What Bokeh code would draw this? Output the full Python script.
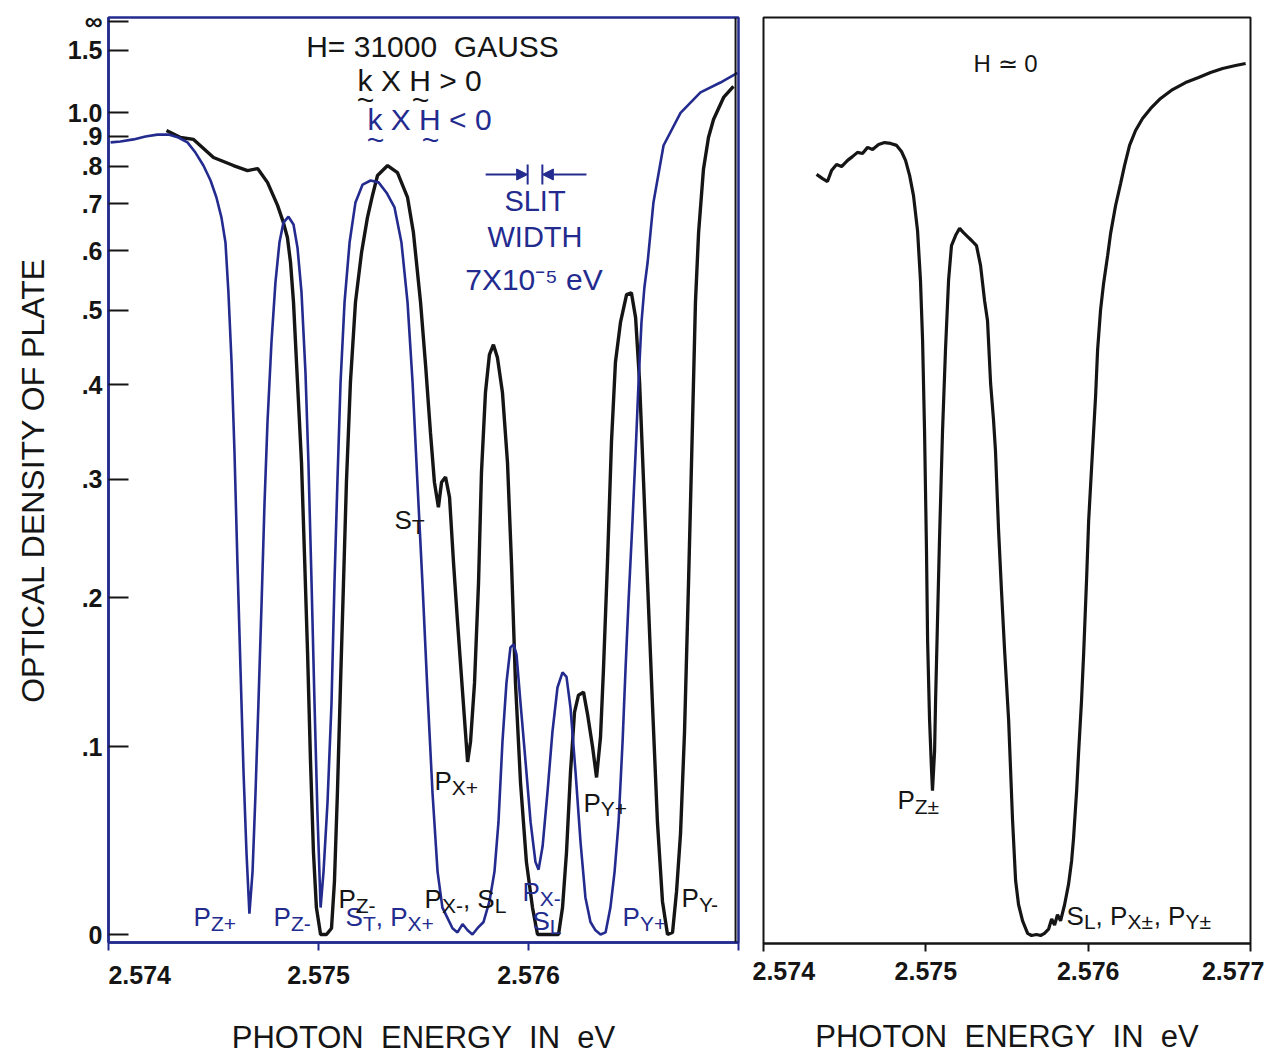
import numpy as np
from bokeh.plotting import figure
from bokeh.models import (Range1d, FixedTicker, Label, Arrow, NormalHead, Span,
                          CustomJSTickFormatter)
from bokeh.layouts import row
from bokeh.embed import file_html
from bokeh.resources import INLINE

# ---------------- data (photon energy in eV, optical density of plate) ----------------
# H = 31000 gauss, k x H > 0 (black trace)
pos_energy = [
    2.574276, 2.574343, 2.574405, 2.5745, 2.574595, 2.574662, 2.57471, 2.574757, 2.574805, 2.574833,
    2.574852, 2.574867, 2.574881, 2.5749, 2.574919, 2.574933, 2.574948, 2.574962, 2.574976, 2.57499,
    2.57501, 2.575038, 2.575062, 2.575076, 2.57509, 2.575105, 2.575119, 2.575133, 2.575152, 2.575176,
    2.575205, 2.575233, 2.575257, 2.575281, 2.575329, 2.575376, 2.575424, 2.575452, 2.575486, 2.57551,
    2.575533, 2.575552, 2.575571, 2.575586, 2.575605, 2.575624, 2.575643, 2.575662, 2.575686, 2.57571,
    2.575724, 2.575743, 2.575762, 2.575776, 2.575795, 2.575814, 2.575833, 2.575852, 2.575876, 2.5759,
    2.575919, 2.575938, 2.575962, 2.57599, 2.576019, 2.576043, 2.576095, 2.576143, 2.576162, 2.576181,
    2.5762, 2.576219, 2.576238, 2.576262, 2.576281, 2.576305, 2.576324, 2.576343, 2.576357, 2.576376,
    2.576395, 2.576414, 2.576438, 2.576467, 2.57649, 2.57651, 2.576529, 2.576548, 2.576567, 2.57659,
    2.576614, 2.576638, 2.576662, 2.576686, 2.576705, 2.576724, 2.576743, 2.576762, 2.576781, 2.576795,
    2.57681, 2.576833, 2.576857, 2.576881, 2.576929, 2.576976,
]
pos_density = [
    0.923, 0.896, 0.889, 0.827, 0.802, 0.787, 0.793, 0.754, 0.696, 0.657,
    0.626, 0.578, 0.512, 0.403, 0.316, 0.235, 0.160, 0.091, 0.041, 0.013,
    0.0, 0.0, 0.003, 0.026, 0.073, 0.140, 0.211, 0.297, 0.403, 0.512,
    0.597, 0.668, 0.720, 0.773, 0.802, 0.781, 0.715, 0.636, 0.512, 0.424,
    0.347, 0.297, 0.274, 0.297, 0.302, 0.283, 0.227, 0.182, 0.134, 0.091,
    0.103, 0.140, 0.211, 0.306, 0.391, 0.438, 0.451, 0.434, 0.391, 0.316,
    0.227, 0.140, 0.079, 0.036, 0.013, 0.0, 0.0, 0.0, 0.013, 0.041,
    0.085, 0.121, 0.132, 0.134, 0.120, 0.100, 0.082, 0.106, 0.149, 0.227,
    0.336, 0.428, 0.482, 0.524, 0.527, 0.489, 0.403, 0.297, 0.211, 0.127,
    0.057, 0.016, 0.0, 0.001, 0.021, 0.051, 0.109, 0.211, 0.357, 0.512,
    0.636, 0.790, 0.896, 0.969, 1.080, 1.148,
]

# H = 31000 gauss, k x H < 0 (blue trace)
neg_energy = [
    2.57401, 2.574057, 2.574119, 2.574176, 2.574233, 2.574286, 2.574333, 2.574376, 2.574414, 2.574452,
    2.574486, 2.574514, 2.574538, 2.574557, 2.574571, 2.574586, 2.5746, 2.574614, 2.574629, 2.574643,
    2.574657, 2.574671, 2.574686, 2.5747, 2.574714, 2.574729, 2.574743, 2.574757, 2.574776, 2.574795,
    2.574814, 2.574833, 2.574857, 2.574881, 2.5749, 2.574919, 2.574938, 2.574952, 2.574967, 2.574981,
    2.574995, 2.57501, 2.575024, 2.575043, 2.575062, 2.575076, 2.57509, 2.575105, 2.575124, 2.575148,
    2.575176, 2.57521, 2.575248, 2.575286, 2.575324, 2.575362, 2.575395, 2.575424, 2.575448, 2.575471,
    2.575495, 2.575519, 2.575543, 2.575567, 2.57559, 2.575614, 2.575638, 2.575662, 2.575686, 2.57571,
    2.575733, 2.575757, 2.575786, 2.575814, 2.575838, 2.575857, 2.575876, 2.575895, 2.575914, 2.575929,
    2.575943, 2.575962, 2.575986, 2.57601, 2.576033, 2.576048, 2.576067, 2.57609, 2.576114, 2.576138,
    2.576162, 2.576181, 2.5762, 2.576224, 2.576248, 2.576271, 2.576295, 2.576319, 2.576343, 2.576367,
    2.57639, 2.57641, 2.576429, 2.576448, 2.576462, 2.576476, 2.576495, 2.57651, 2.576524, 2.576538,
    2.576552, 2.576567, 2.576595, 2.576643, 2.576724, 2.576819, 2.576914, 2.576995,
]
neg_density = [
    0.878, 0.881, 0.889, 0.900, 0.907, 0.907, 0.896, 0.878, 0.843, 0.802,
    0.759, 0.715, 0.668, 0.616, 0.528, 0.428, 0.326, 0.227, 0.147, 0.085,
    0.041, 0.010, 0.031, 0.073, 0.127, 0.196, 0.278, 0.357, 0.454, 0.544,
    0.616, 0.657, 0.670, 0.653, 0.606, 0.528, 0.415, 0.316, 0.211, 0.127,
    0.062, 0.013, 0.031, 0.068, 0.127, 0.211, 0.297, 0.403, 0.512, 0.616,
    0.703, 0.748, 0.759, 0.754, 0.727, 0.691, 0.616, 0.512, 0.403, 0.297,
    0.211, 0.134, 0.073, 0.031, 0.013, 0.008, 0.003, 0.001, 0.005, 0.002,
    0.0, 0.003, 0.006, 0.016, 0.031, 0.057, 0.103, 0.140, 0.164, 0.166,
    0.159, 0.127, 0.091, 0.057, 0.036, 0.032, 0.044, 0.073, 0.109, 0.137,
    0.147, 0.144, 0.124, 0.085, 0.046, 0.018, 0.006, 0.002, 0.0, 0.001,
    0.013, 0.031, 0.057, 0.103, 0.149, 0.196, 0.261, 0.326, 0.403, 0.482,
    0.536, 0.578, 0.703, 0.867, 1.000, 1.110, 1.175, 1.250,
]

# H = 0 (right panel)
zero_energy = [
    2.574327, 2.574364, 2.574394, 2.574419, 2.57445, 2.574481, 2.574518, 2.574548, 2.574579, 2.57461,
    2.574641, 2.574672, 2.574709, 2.574746, 2.574783, 2.57482, 2.57485, 2.574875, 2.5749, 2.574924,
    2.574949, 2.574967, 2.57498, 2.574992, 2.575004, 2.575011, 2.575023, 2.575035, 2.575041, 2.575054,
    2.57506, 2.575072, 2.575084, 2.575103, 2.575121, 2.57514, 2.575158, 2.575183, 2.575208, 2.575232,
    2.575257, 2.575282, 2.575312, 2.575337, 2.575362, 2.57538, 2.575399, 2.575417, 2.575429, 2.575448,
    2.575466, 2.575485, 2.57551, 2.575534, 2.575553, 2.575571, 2.575596, 2.575627, 2.575651, 2.575682,
    2.575707, 2.575731, 2.575756, 2.575775, 2.575793, 2.575811, 2.57583, 2.575855, 2.575879, 2.575898,
    2.57591, 2.575929, 2.575941, 2.575959, 2.575972, 2.57599, 2.576003, 2.576015, 2.576027, 2.576046,
    2.576058, 2.576076, 2.576095, 2.57612, 2.576138, 2.576169, 2.5762, 2.576224, 2.576255, 2.576292,
    2.576335, 2.576385, 2.576446, 2.57652, 2.5766, 2.57668, 2.576754, 2.576828, 2.576908, 2.57697,
]
zero_density = [
    0.779, 0.767, 0.759, 0.790, 0.808, 0.802, 0.821, 0.833, 0.847, 0.843,
    0.864, 0.857, 0.874, 0.881, 0.878, 0.871, 0.850, 0.821, 0.776, 0.722,
    0.642, 0.549, 0.458, 0.350, 0.238, 0.169, 0.117, 0.087, 0.075, 0.098,
    0.129, 0.184, 0.246, 0.350, 0.445, 0.549, 0.612, 0.632, 0.647, 0.638,
    0.630, 0.622, 0.612, 0.575, 0.516, 0.486, 0.403, 0.361, 0.329, 0.255,
    0.206, 0.163, 0.117, 0.059, 0.027, 0.015, 0.007, 0.001, 0.0, 0.0005,
    0.0, 0.001, 0.003, 0.008, 0.005, 0.010, 0.007, 0.015, 0.025, 0.037,
    0.049, 0.075, 0.097, 0.129, 0.160, 0.214, 0.263, 0.295, 0.329, 0.389,
    0.445, 0.501, 0.544, 0.593, 0.636, 0.698, 0.754, 0.805, 0.871, 0.927,
    0.978, 1.026, 1.080, 1.134, 1.182, 1.220, 1.261, 1.298, 1.327, 1.348,
]

density_ticks = [0.0, 0.1, 0.2, 0.3, 0.4, 0.5, 0.6, 0.7, 0.8, 0.9, 1.0, 1.5]
energy_ticks = [2.574, 2.575, 2.576, 2.577]
slit_center = 2.576031
slit_width = 7e-5

assert len(pos_energy) == len(pos_density)
assert len(neg_energy) == len(neg_density)
assert len(zero_energy) == len(zero_density)

BLUE = "#232b8f"
INK = "#151515"
FONT = "Liberation Sans"
NB = "\u00a0"


def plate(d):
    """Vertical axis position: plate transmission 10^-D (D = optical density)."""
    return 10.0 ** (-np.asarray(d, dtype=float))


plate_ticks = [float(v) for v in plate(density_ticks)] + [0.0]   # 0 -> infinite density

density_formatter = CustomJSTickFormatter(code="""
    if (tick <= 1e-9) return "\\u221e";
    const d = Math.round(-Math.log10(tick) * 10) / 10;
    if (d === 0) return "0";
    if (d < 1) return "." + Math.round(d * 10);
    return d.toFixed(1);
""")

# --------------- left panel ---------------
p1 = figure(frame_width=630, frame_height=925, output_backend="svg", toolbar_location=None,
            x_range=Range1d(2.574, 2.577), y_range=Range1d(1.00876, -0.00438),
            min_border_left=108, min_border_right=14, min_border_top=15, min_border_bottom=112)
p1.grid.visible = False
p1.outline_line_color = BLUE
p1.outline_line_width = 2.5

p1.line(pos_energy, plate(pos_density), line_color=INK, line_width=3.4)
p1.line(neg_energy, plate(neg_density), line_color=BLUE, line_width=2.6)

yax = p1.yaxis[0]
yax.ticker = FixedTicker(ticks=plate_ticks)
yax.formatter = density_formatter
yax.major_tick_in = 20
yax.major_tick_out = 0
yax.major_tick_line_color = INK
yax.major_tick_line_width = 2
yax.minor_tick_line_color = None
yax.axis_line_color = BLUE
yax.axis_line_width = 2.5
yax.major_label_standoff = 6
yax.major_label_text_font = FONT
yax.major_label_text_font_size = "25px"
yax.major_label_text_font_style = "bold"
yax.major_label_text_color = INK
yax.axis_label = "OPTICAL DENSITY OF PLATE"
yax.axis_label_text_font = FONT
yax.axis_label_text_font_size = "32px"
yax.axis_label_text_font_style = "normal"
yax.axis_label_text_color = INK
yax.axis_label_standoff = 14

xax = p1.xaxis[0]
xax.ticker = FixedTicker(ticks=energy_ticks)
xax.major_label_overrides = {2.574: NB * 9 + "2.574", 2.575: "2.575", 2.576: "2.576", 2.577: ""}
xax.major_tick_in = 0
xax.major_tick_out = 8
xax.major_tick_line_color = BLUE
xax.major_tick_line_width = 2
xax.minor_tick_line_color = None
xax.axis_line_color = BLUE
xax.axis_line_width = 2.5
xax.major_label_standoff = 10
xax.major_label_text_font = FONT
xax.major_label_text_font_size = "25px"
xax.major_label_text_font_style = "bold"
xax.major_label_text_color = INK
xax.axis_label = "PHOTON" + NB + " ENERGY" + NB + " IN" + NB + " eV"
xax.axis_label_text_font = FONT
xax.axis_label_text_font_size = "31px"
xax.axis_label_text_font_style = "normal"
xax.axis_label_text_color = INK
xax.axis_label_standoff = 28

# black frame line of the k x H > 0 trace, just inside the right edge
p1.add_layout(Span(location=2.576986, dimension="height", line_color=INK, line_width=2))

CW = {'P': 0.667, 'S': 0.667, 'Z': 0.611, 'X': 0.667, 'Y': 0.667, 'T': 0.611, 'L': 0.556,
      '+': 0.584, '-': 0.333, '\u00b1': 0.584, ',': 0.278, ' ': 0.278}


def twidth(s, size):
    return sum(CW.get(c, 0.6) for c in s) * size


def lab(p, x, d, text, color, size=27, align="left", dx=0, dy=0, style="normal"):
    p.add_layout(Label(x=x, y=float(plate(d)), x_offset=dx, y_offset=dy, text=text,
                       text_color=color, text_font=FONT, text_font_size=f"{size}px",
                       text_font_style=style, text_align=align, text_baseline="middle"))


def compound(p, x, d, parts, color, size=26, sub_size=21, drop=6):
    off = 0.0
    for txt, is_sub in parts:
        fs = sub_size if is_sub else size
        lab(p, x, d, txt, color, size=fs, dx=off, dy=-drop if is_sub else 0)
        off += twidth(txt, fs)


# header texts
lab(p1, 2.575543, 1.5625, "H= 31000" + NB + " GAUSS", INK, size=30, align="center")
lab(p1, 2.575186, 1.1896, "k X H > 0", INK, size=30)
lab(p1, 2.575186, 1.0684, "~", INK, size=30, align="center", dx=8)
lab(p1, 2.575186, 1.0684, "~", INK, size=30, align="center", dx=63)
lab(p1, 2.575233, 0.9692, "k X H < 0", BLUE, size=30)
lab(p1, 2.575233, 0.8886, "~", BLUE, size=30, align="center", dx=8)
lab(p1, 2.575233, 0.8886, "~", BLUE, size=30, align="center", dx=63)

# slit width marker
u_bar = plate([0.8051, 0.7483])
u_arr = float(plate(0.7758))
half = slit_width / 2
p1.segment(x0=[slit_center - half, slit_center + half], y0=[u_bar[0]] * 2,
           x1=[slit_center - half, slit_center + half], y1=[u_bar[1]] * 2,
           line_color=BLUE, line_width=2)
p1.add_layout(Arrow(end=NormalHead(size=11, fill_color=BLUE, line_color=BLUE),
                    x_start=slit_center - half - 2.0e-4, y_start=u_arr,
                    x_end=slit_center - half, y_end=u_arr, line_color=BLUE, line_width=2))
p1.add_layout(Arrow(end=NormalHead(size=11, fill_color=BLUE, line_color=BLUE),
                    x_start=slit_center + half + 2.1e-4, y_start=u_arr,
                    x_end=slit_center + half, y_end=u_arr, line_color=BLUE, line_width=2))
lab(p1, slit_center, 0.7052, "SLIT", BLUE, size=29, align="center")
lab(p1, slit_center, 0.6261, "WIDTH", BLUE, size=29, align="center")
lab(p1, slit_center - 0.000005, 0.5488, "7X10\u207b\u2075 eV", BLUE, size=30, align="center")

# line identifications, left panel
compound(p1, 2.574405, 0.0082, [("P", False), ("Z+", True)], BLUE)
compound(p1, 2.574786, 0.0082, [("P", False), ("Z-", True)], BLUE)
compound(p1, 2.575129, 0.0082, [("S", False), ("T", True), (", P", False), ("X+", True)], BLUE)
compound(p1, 2.575095, 0.0170, [("P", False), ("Z-", True)], INK)
compound(p1, 2.575505, 0.0170, [("P", False), ("X-", True), (", S", False), ("L", True)], INK)
compound(p1, 2.575971, 0.0205, [("P", False), ("X-", True)], BLUE)
compound(p1, 2.576019, 0.0067, [("S", False), ("L", True)], BLUE)
compound(p1, 2.576448, 0.0082, [("P", False), ("Y+", True)], BLUE)
compound(p1, 2.576729, 0.0175, [("P", False), ("Y-", True)], INK)
compound(p1, 2.575552, 0.0797, [("P", False), ("X+", True)], INK)
compound(p1, 2.576262, 0.0678, [("P", False), ("Y+", True)], INK)
compound(p1, 2.575362, 0.2624, [("S", False), ("T", True)], INK)

# --------------- right panel ---------------
p2 = figure(frame_width=487, frame_height=926, output_backend="svg", toolbar_location=None,
            x_range=Range1d(2.574, 2.577), y_range=Range1d(1.00876, -0.00548),
            min_border_left=11, min_border_right=14, min_border_top=17, min_border_bottom=109)
p2.grid.visible = False
p2.outline_line_color = INK
p2.outline_line_width = 2
p2.yaxis.visible = False

p2.line(zero_energy, plate(zero_density), line_color=INK, line_width=3.2)

xr = p2.xaxis[0]
xr.ticker = FixedTicker(ticks=energy_ticks)
xr.major_tick_in = 0
xr.major_tick_out = 8
xr.major_tick_line_color = INK
xr.major_tick_line_width = 2
xr.minor_tick_line_color = None
xr.axis_line_color = INK
xr.axis_line_width = 2
xr.major_label_standoff = 10
xr.major_label_text_font = FONT
xr.major_label_text_font_size = "25px"
xr.major_label_text_font_style = "bold"
xr.major_label_text_color = INK
xr.axis_label = "PHOTON" + NB + " ENERGY" + NB + " IN" + NB + " eV"
xr.axis_label_text_font = FONT
xr.axis_label_text_font_size = "31px"
xr.axis_label_text_font_style = "normal"
xr.axis_label_text_color = INK
xr.axis_label_standoff = 36

lab(p2, 2.575491, 1.3477, "H \u2243 0", INK, size=24, align="center")
compound(p2, 2.574825, 0.0695, [("P", False), ("Z\u00b1", True)], INK)
compound(p2, 2.575867, 0.0096, [("S", False), ("L", True), (", P", False), ("X\u00b1", True),
                                (", P", False), ("Y\u00b1", True)], INK)

layout = row(p1, p2)
open("out.html", "w").write(file_html(layout, INLINE))
